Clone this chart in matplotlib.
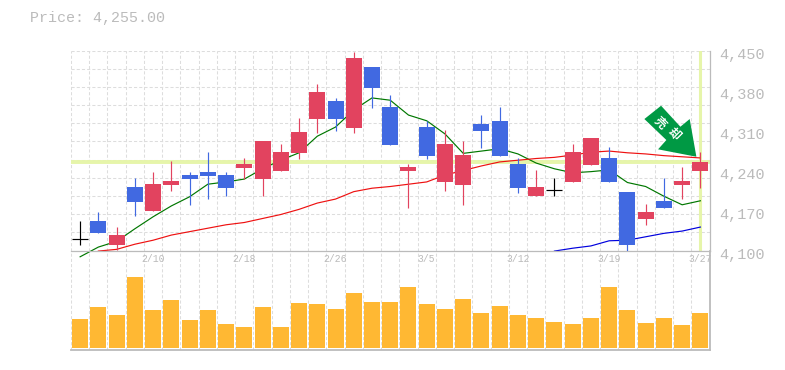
import matplotlib
matplotlib.use('Agg')
import matplotlib.pyplot as plt
from matplotlib.patches import Polygon

plt.rcParams['font.family'] = ['Liberation Mono', 'Noto Sans CJK JP', 'DejaVu Sans']

# values
open_px = [4121, 4152, 4110, 4211, 4169, 4215, 4232, 4237, 4232, 4244, 4225, 4239,
           4271, 4330, 4362, 4314, 4421, 4351, 4239, 4316, 4220, 4215, 4321, 4327,
           4251, 4195, 4206, 4220, 4250, 4262, 4202, 4155, 4187, 4215, 4239]
close_px = [4121, 4131, 4127, 4185, 4216, 4222, 4225, 4230, 4209, 4251, 4292, 4272,
            4307, 4377, 4330, 4437, 4384, 4285, 4246, 4265, 4286, 4267, 4309, 4265,
            4209, 4211, 4206, 4272, 4297, 4220, 4110, 4167, 4174, 4222, 4255]
high_px = [4152, 4167, 4141, 4227, 4237, 4257, 4237, 4272, 4237, 4262, 4292, 4286,
           4332, 4391, 4367, 4447, 4421, 4372, 4251, 4327, 4311, 4292, 4337, 4351,
           4262, 4241, 4227, 4286, 4297, 4281, 4202, 4181, 4227, 4246, 4272]
low_px = [4110, 4131, 4101, 4160, 4169, 4204, 4180, 4190, 4195, 4225, 4195, 4239,
          4260, 4306, 4309, 4306, 4349, 4285, 4174, 4260, 4204, 4180, 4279, 4265,
          4201, 4195, 4195, 4220, 4250, 4220, 4100, 4145, 4174, 4190, 4209]
volume = [29, 41, 33, 71, 38, 48, 28, 38, 24, 21, 41, 21, 45, 44, 39, 55, 46, 46,
          61, 44, 39, 49, 35, 42, 33, 30, 26, 24, 30, 61, 38, 25, 30, 23, 35]
ma_short = [4089, 4106, 4116, 4138, 4159, 4178, 4194, 4216, 4220, 4225, 4243, 4258,
            4271, 4300, 4316, 4346, 4367, 4363, 4337, 4327, 4304, 4270, 4274, 4278,
            4269, 4253, 4243, 4236, 4238, 4241, 4219, 4212, 4195, 4180, 4187]
ma_mid = [4099, 4102, 4111, 4118, 4127, 4133, 4139, 4145, 4149, 4156, 4163, 4172,
          4183, 4190, 4203, 4209, 4212, 4216, 4220, 4232, 4240, 4248, 4255, 4258,
          4261, 4263, 4267, 4272, 4274, 4271, 4269, 4266, 4264, 4262]
ma_long = [4099, 4104, 4108, 4117, 4118, 4124, 4130, 4134, 4141]
date_pos = [4, 9, 14, 19, 24, 29, 34]
date_labels = ['2/10', '2/18', '2/26', '3/5', '3/12', '3/19', '3/27']
price_ticks = [4450, 4380, 4310, 4240, 4170, 4100]
price_labels = ['4,450', '4,380', '4,310', '4,240', '4,170', '4,100']
last_price = 4255

W, H = 785, 370
UP = '#e2435f'
DOWN = '#4169e1'
GRID = '#dddddd'
AXIS = '#bbbbbb'
TEXT = '#bbbbbb'
HILITE = '#e6f5aa'


def px_axes(fig, left, top, right, bottom):
    return fig.add_axes([left / W, 1 - bottom / H, (right - left) / W, (bottom - top) / H])


fig = plt.figure(figsize=(W / 100, H / 100), dpi=100)
ax = px_axes(fig, 71, 50.5, 709.5, 250.5)
ax_vol = px_axes(fig, 71, 250.5, 709.5, 350)
ax.set_zorder(2)
ax.patch.set_visible(False)
n = len(open_px)

for a in (ax, ax_vol):
    a.set_xlim(-0.5, n - 0.5)
    a.set_xticks([i - 0.5 for i in range(n + 1)])
    a.tick_params(length=0, labelbottom=False, labelleft=False)
    a.grid(axis='x', color=GRID, linestyle=(0, (3, 2)), linewidth=0.75)
    a.set_axisbelow(True)
    for side in a.spines:
        a.spines[side].set_visible(False)

ax.set_ylim(4100, 4450)
ax.set_yticks([4100 + 350 * k / 11 for k in range(12)])
ax.grid(axis='y', color=GRID, linestyle=(0, (3, 2)), linewidth=0.75)
ax.spines['bottom'].set_visible(True)
ax.spines['bottom'].set_color(AXIS)
ax.spines['bottom'].set_linewidth(0.9)
ax.spines['right'].set_visible(True)
ax.spines['right'].set_color(AXIS)
ax.spines['right'].set_linewidth(0.9)

# last price highlight
ax.axhline(last_price, color=HILITE, linewidth=2.8, zorder=1)
ax.axvline(n - 1, color=HILITE, linewidth=2.2, zorder=1)

# moving averages run under the candles
ax.plot(range(n), ma_short, color='#007700', linewidth=0.85, zorder=2, clip_on=False)
ax.plot(range(1, n), ma_mid, color='#ee1111', linewidth=0.85, zorder=2, clip_on=False)
ax.plot(range(n - len(ma_long), n), ma_long, color='#0000dd', linewidth=0.85, zorder=2, clip_on=False)

for i in range(n):
    o, c, h, l = open_px[i], close_px[i], high_px[i], low_px[i]
    if o == c:
        ax.vlines(i, l, h, color='black', linewidth=0.85, zorder=3)
        ax.hlines(o, i - 0.44, i + 0.44, color='black', linewidth=0.85, zorder=3)
        continue
    col = UP if c > o else DOWN
    ax.vlines(i, l, h, color=col, linewidth=0.85, zorder=3)
    ax.bar(i, abs(c - o), bottom=min(o, c), width=0.877, color=col, zorder=4)

# signal arrow, placed in pixels relative to the last candle
arrow = [(-56, 42.9), (-39.3, 56.2), (-20, 35.2), (-10.7, 42.9), (-4, 5.2), (-42.3, 12.6), (-34, 21.9)]
x0, y0 = ax.transData.transform((n - 1, last_price))
ax.add_patch(Polygon([(x0 + dx, y0 + dy) for dx, dy in arrow], closed=True, transform=None,
                     facecolor='#009944', edgecolor='none', zorder=5))
for ch, dx, dy in [('売', -40, 39.2), ('却', -26.7, 27.6)]:
    ax.text(x0 + dx, y0 + dy, ch, color='white', fontsize=8.5, fontweight='bold', rotation=-45,
            ha='center', va='center', transform=None, zorder=6, family='Noto Sans CJK JP')

for pos, lab in zip(date_pos, date_labels):
    ax.annotate(lab, (pos, 4100), xytext=(0, -9), textcoords='offset pixels', ha='center', va='center',
                color=TEXT, fontsize=7, annotation_clip=False)
for val, lab in zip(price_ticks, price_labels):
    ax.annotate(lab, (n - 0.5, val), xytext=(10, -4), textcoords='offset pixels', ha='left', va='center',
                color=TEXT, fontsize=11, annotation_clip=False)

ax_vol.bar(range(n), volume, width=0.877, color='#ffb833', zorder=2)
ax_vol.set_ylim(-2, 97.5)
ax_vol.spines['bottom'].set_visible(True)
ax_vol.spines['bottom'].set_color(AXIS)
ax_vol.spines['bottom'].set_linewidth(1.3)
ax_vol.spines['right'].set_visible(True)
ax_vol.spines['right'].set_color(AXIS)
ax_vol.spines['right'].set_linewidth(1.3)

fig.text(30 / W, 1 - 18 / H, f'Price: {last_price:,.2f}', color=TEXT, fontsize=10.8, ha='left', va='center')

fig.savefig('out.png', dpi=100)
